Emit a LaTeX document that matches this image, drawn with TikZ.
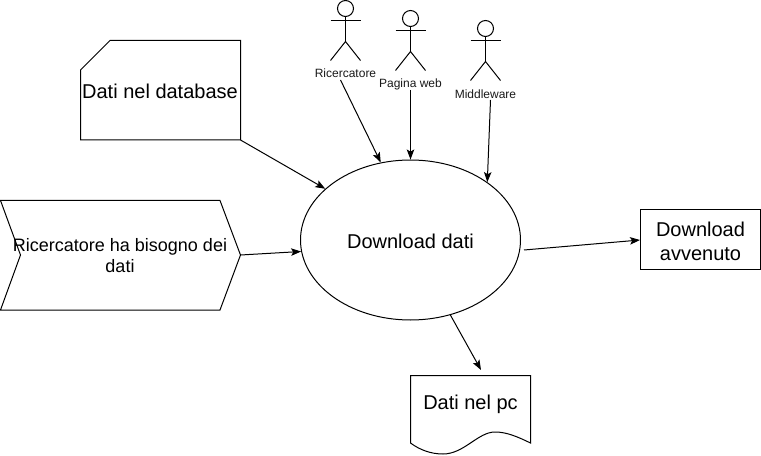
\documentclass[tikz,border=0pt]{standalone}
\usepackage{fontspec}
\setmainfont{Liberation Sans}
\usetikzlibrary{arrows.meta,shapes.geometric}
\tikzset{
  line/.style={draw=black,line width=0.75pt,line join=miter},
  conn/.style={line,-{Stealth[length=7.5pt,width=5.6pt,inset=1.6pt]},shorten >=0pt},
  big/.style={font=\fontsize{15}{18}\selectfont,align=center,inner sep=0pt},
  mid/.style={font=\fontsize{13.5}{16.2}\selectfont,align=center,inner sep=0pt},
  small/.style={font=\fontsize{9}{11}\selectfont,align=center,inner sep=0pt,text=black!90},
  proc/.style={line,ellipse,inner sep=0pt,minimum width=165pt,minimum height=120pt},
  outbox/.style={line,rectangle,inner sep=0pt,minimum width=90pt,minimum height=45pt},
  head/.style={line,circle,inner sep=0pt,minimum size=12pt},
}
\newcommand{\stickman}[5]{%
  \node[head] (#1h) at (#2,#3) {};
  \coordinate (#1w) at (#2,#3+33);
  \draw[line] (#1h.south) -- (#1w);
  \draw[line] (#2-15,#3+12) -- (#2+15,#3+12);
  \draw[line] (#2-15,#3+52) -- (#1w) -- (#2+15,#3+52);
  \node[small] (#1l) at (#2,#3+#4) {#5};
}
\begin{document}
\begin{tikzpicture}[x=0.75pt,y=-0.75pt]
\useasboundingbox (0,0) rectangle (761,456);
% process
\node[proc] (e) at (410.5,240) {};
\node[big] (etext) at (410.5,241) {Download dati};
% database card
\draw[line] (110,40.5) -- (240.5,40.5) -- (240.5,140) -- (80.5,140) -- (80.5,70) -- cycle;
\coordinate (dbc) at (240.5,140);
\node[big] (db) at (160,91) {Dati nel database};
% chevron
\draw[line] (0.5,200.5) -- (220,200.5) -- (240.5,255) -- (220,310) -- (0.5,310) -- (20.5,255) -- cycle;
\coordinate (chv) at (240.5,255);
\node[mid] (need) at (120,255.5) {Ricercatore ha bisogno dei\\dati};
% output box
\node[outbox] (av) at (700.5,240) {};
\node[big] (avtext) at (700.5,241) {Download\\avvenuto};
% document
\draw[line] (410.5,375.5) -- (530.5,375.5) -- (530.5,443)
  .. controls (518,437) and (507,432) .. (495,432)
  .. controls (478,432) and (464,454) .. (443,454)
  .. controls (431,454) and (420,450) .. (410.5,443) -- cycle;
\coordinate (docin) at (481,370);
\node[big] (pc) at (470.5,404.5) {Dati nel pc};
% actors
\stickman{r}{345.5}{8.5}{65}{Ricercatore}
\stickman{p}{410.5}{18.5}{66}{Pagina web}
\stickman{m}{485.5}{28.5}{65.5}{Middleware}
\coordinate (rout) at (340.5,80);
\coordinate (pout) at (410.5,90);
\coordinate (mout) at (490.5,100);
\coordinate (eout) at (524,250);
% connectors
\draw[conn] (dbc) -- (e.149.7);
\draw[conn] (chv) -- (e.186.8);
\draw[conn] (rout) -- (e.111);
\draw[conn] (pout) -- (e.north);
\draw[conn] (mout) -- (e.37);
\draw[conn] (eout) -- (av.west);
\draw[conn] (e.-62.2) -- (docin);
\end{tikzpicture}
\end{document}
